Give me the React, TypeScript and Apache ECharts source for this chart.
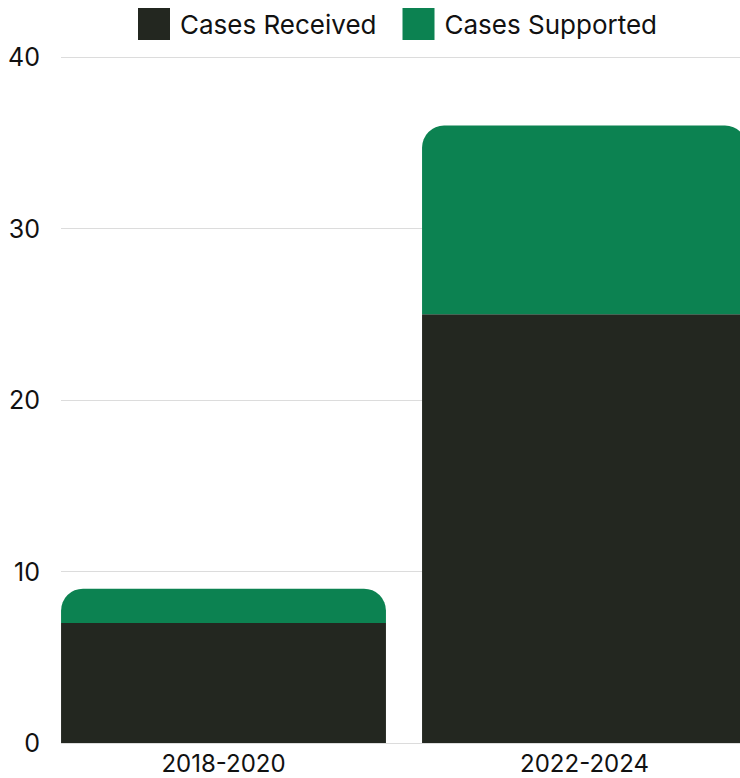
import React, { useEffect, useRef } from "react";
import * as echarts from "echarts";

const categories = ["2018-2020", "2022-2024"];
const casesReceived = [7, 25];
const casesSupported = [2, 11];
const yTicks = { min: 0, max: 40, interval: 10 };

export default function App() {
  const ref = useRef<HTMLDivElement>(null);
  useEffect(() => {
    document.body.style.margin = "0";
    const chart = echarts.init(ref.current!, null, { renderer: "svg" });
    const font = "Inter, 'Noto Sans', sans-serif";
    chart.setOption({
      animation: false,
      textStyle: { fontFamily: font },
      legend: {
        top: 8,
        left: 138,
        padding: 0,
        itemWidth: 32,
        itemHeight: 32,
        itemGap: 26,
        icon: "rect",
        textStyle: { fontSize: 26, color: "#111", fontFamily: font, lineHeight: 32, padding: [0, 0, 0, 5] },
        data: ["Cases Received", "Cases Supported"],
      },
      grid: [
        { left: 43, right: 0, top: 57, height: 686 },
        { left: 61, right: 0, top: 57, height: 686 },
      ],
      xAxis: [
        {
          type: "category",
          gridIndex: 0,
          data: categories,
          axisLine: { show: false },
          axisTick: { show: false },
          axisLabel: { fontSize: 24, lineHeight: 24, color: "#111", margin: 8, fontFamily: font },
        },
        { type: "category", gridIndex: 1, data: categories, show: false },
      ],
      yAxis: [
        {
          type: "value",
          gridIndex: 0,
          min: yTicks.min,
          max: yTicks.max,
          interval: yTicks.interval,
          show: false,
          splitLine: { show: false },
        },
        {
          type: "value",
          gridIndex: 1,
          min: yTicks.min,
          max: yTicks.max,
          interval: yTicks.interval,
          axisLine: { show: false },
          axisTick: { show: false },
          axisLabel: { fontSize: 25, color: "#111", margin: 21, fontFamily: font },
          splitLine: { lineStyle: { color: "#dcdcdc", width: 1 } },
        },
      ],
      series: [
        {
          name: "Cases Received",
          type: "bar",
          stack: "total",
          xAxisIndex: 0,
          yAxisIndex: 0,
          barWidth: "90%",
          data: casesReceived,
          itemStyle: { color: "#232720" },
        },
        {
          name: "Cases Supported",
          type: "bar",
          stack: "total",
          xAxisIndex: 0,
          yAxisIndex: 0,
          barWidth: "90%",
          data: casesSupported,
          itemStyle: { color: "#0c8251", borderRadius: [22, 22, 0, 0] },
        },
      ],
    });
    return () => chart.dispose();
  }, []);
  return (
    <div style={{ width: 740, height: 778, overflow: "hidden" }}>
      <div ref={ref} style={{ width: 765, height: 778 }} />
    </div>
  );
}
